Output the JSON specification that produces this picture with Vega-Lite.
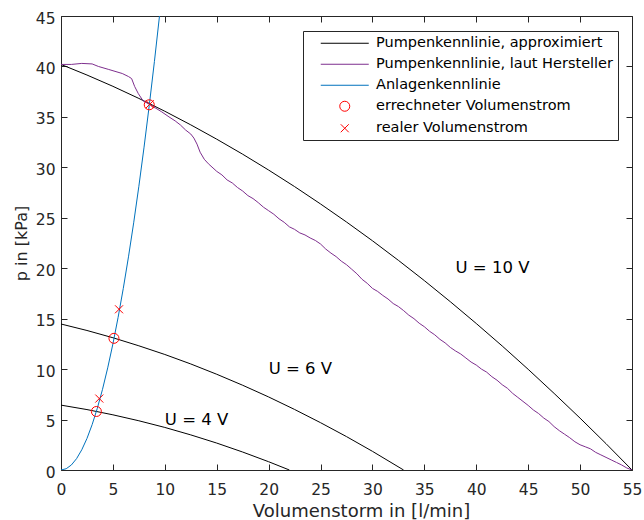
{
  "$schema": "https://vega.github.io/schema/vega-lite/v6.json",
  "width": 571,
  "height": 454,
  "autosize": {"type": "none"},
  "padding": {"left": 61, "top": 16, "right": 12, "bottom": 50},
  "background": "white",
  "config": {
    "view": {"stroke": "#262626", "strokeWidth": 1},
    "font": "DejaVu Sans",
    "axis": {
      "grid": false,
      "domain": false,
      "offset": -6,
      "tickSize": 6,
      "tickWidth": 1,
      "tickColor": "#262626",
      "labelColor": "#262626",
      "titleColor": "#262626",
      "labelFont": "DejaVu Sans",
      "titleFont": "DejaVu Sans",
      "labelFontSize": 15.5,
      "titleFontWeight": "normal",
      "labelFlush": false,
      "labelOverlap": false
    },
    "legend": {
      "orient": "none",
      "legendX": 242,
      "legendY": 15,
      "fillColor": "white",
      "strokeColor": "#262626",
      "padding": 5,
      "cornerRadius": 0,
      "labelFont": "DejaVu Sans",
      "labelFontSize": 14.5,
      "labelColor": "#000000",
      "labelLimit": 0,
      "symbolSize": 100,
      "symbolStrokeWidth": 1,
      "rowPadding": 6,
      "labelOffset": 24,
      "symbolOffset": 29.5
    }
  },
  "datasets": {
    "curves": [
      {"Q": 0, "p": 40.2, "series": "Pumpenkennlinie, approximiert", "curve": "U10"},
      {"Q": 2.5, "p": 39.15, "series": "Pumpenkennlinie, approximiert", "curve": "U10"},
      {"Q": 5, "p": 38.03, "series": "Pumpenkennlinie, approximiert", "curve": "U10"},
      {"Q": 7.5, "p": 36.83, "series": "Pumpenkennlinie, approximiert", "curve": "U10"},
      {"Q": 10, "p": 35.56, "series": "Pumpenkennlinie, approximiert", "curve": "U10"},
      {"Q": 12.5, "p": 34.21, "series": "Pumpenkennlinie, approximiert", "curve": "U10"},
      {"Q": 15, "p": 32.79, "series": "Pumpenkennlinie, approximiert", "curve": "U10"},
      {"Q": 17.5, "p": 31.3, "series": "Pumpenkennlinie, approximiert", "curve": "U10"},
      {"Q": 20, "p": 29.73, "series": "Pumpenkennlinie, approximiert", "curve": "U10"},
      {"Q": 22.5, "p": 28.09, "series": "Pumpenkennlinie, approximiert", "curve": "U10"},
      {"Q": 25, "p": 26.37, "series": "Pumpenkennlinie, approximiert", "curve": "U10"},
      {"Q": 27.5, "p": 24.58, "series": "Pumpenkennlinie, approximiert", "curve": "U10"},
      {"Q": 30, "p": 22.72, "series": "Pumpenkennlinie, approximiert", "curve": "U10"},
      {"Q": 32.5, "p": 20.78, "series": "Pumpenkennlinie, approximiert", "curve": "U10"},
      {"Q": 35, "p": 18.77, "series": "Pumpenkennlinie, approximiert", "curve": "U10"},
      {"Q": 37.5, "p": 16.68, "series": "Pumpenkennlinie, approximiert", "curve": "U10"},
      {"Q": 40, "p": 14.52, "series": "Pumpenkennlinie, approximiert", "curve": "U10"},
      {"Q": 42.5, "p": 12.29, "series": "Pumpenkennlinie, approximiert", "curve": "U10"},
      {"Q": 45, "p": 9.98, "series": "Pumpenkennlinie, approximiert", "curve": "U10"},
      {"Q": 47.5, "p": 7.59, "series": "Pumpenkennlinie, approximiert", "curve": "U10"},
      {"Q": 50, "p": 5.14, "series": "Pumpenkennlinie, approximiert", "curve": "U10"},
      {"Q": 52.5, "p": 2.61, "series": "Pumpenkennlinie, approximiert", "curve": "U10"},
      {"Q": 55, "p": 0, "series": "Pumpenkennlinie, approximiert", "curve": "U10"},
      {"Q": 0, "p": 14.47, "series": "Pumpenkennlinie, approximiert", "curve": "U6"},
      {"Q": 2.5, "p": 13.83, "series": "Pumpenkennlinie, approximiert", "curve": "U6"},
      {"Q": 5, "p": 13.11, "series": "Pumpenkennlinie, approximiert", "curve": "U6"},
      {"Q": 7.5, "p": 12.31, "series": "Pumpenkennlinie, approximiert", "curve": "U6"},
      {"Q": 10, "p": 11.45, "series": "Pumpenkennlinie, approximiert", "curve": "U6"},
      {"Q": 12.5, "p": 10.51, "series": "Pumpenkennlinie, approximiert", "curve": "U6"},
      {"Q": 15, "p": 9.49, "series": "Pumpenkennlinie, approximiert", "curve": "U6"},
      {"Q": 17.5, "p": 8.4, "series": "Pumpenkennlinie, approximiert", "curve": "U6"},
      {"Q": 20, "p": 7.24, "series": "Pumpenkennlinie, approximiert", "curve": "U6"},
      {"Q": 22.5, "p": 6.0, "series": "Pumpenkennlinie, approximiert", "curve": "U6"},
      {"Q": 25, "p": 4.69, "series": "Pumpenkennlinie, approximiert", "curve": "U6"},
      {"Q": 27.5, "p": 3.31, "series": "Pumpenkennlinie, approximiert", "curve": "U6"},
      {"Q": 30, "p": 1.85, "series": "Pumpenkennlinie, approximiert", "curve": "U6"},
      {"Q": 33, "p": 0, "series": "Pumpenkennlinie, approximiert", "curve": "U6"},
      {"Q": 0, "p": 6.43, "series": "Pumpenkennlinie, approximiert", "curve": "U4"},
      {"Q": 2.5, "p": 5.99, "series": "Pumpenkennlinie, approximiert", "curve": "U4"},
      {"Q": 5, "p": 5.47, "series": "Pumpenkennlinie, approximiert", "curve": "U4"},
      {"Q": 7.5, "p": 4.88, "series": "Pumpenkennlinie, approximiert", "curve": "U4"},
      {"Q": 10, "p": 4.22, "series": "Pumpenkennlinie, approximiert", "curve": "U4"},
      {"Q": 12.5, "p": 3.48, "series": "Pumpenkennlinie, approximiert", "curve": "U4"},
      {"Q": 15, "p": 2.67, "series": "Pumpenkennlinie, approximiert", "curve": "U4"},
      {"Q": 17.5, "p": 1.78, "series": "Pumpenkennlinie, approximiert", "curve": "U4"},
      {"Q": 20, "p": 0.82, "series": "Pumpenkennlinie, approximiert", "curve": "U4"},
      {"Q": 22, "p": 0, "series": "Pumpenkennlinie, approximiert", "curve": "U4"},
      {"Q": 0, "p": 40.2, "series": "Pumpenkennlinie, laut Hersteller", "curve": "H"},
      {"Q": 1, "p": 40.2, "series": "Pumpenkennlinie, laut Hersteller", "curve": "H"},
      {"Q": 2, "p": 40.3, "series": "Pumpenkennlinie, laut Hersteller", "curve": "H"},
      {"Q": 3, "p": 40.25, "series": "Pumpenkennlinie, laut Hersteller", "curve": "H"},
      {"Q": 3.6, "p": 40.0, "series": "Pumpenkennlinie, laut Hersteller", "curve": "H"},
      {"Q": 4.6, "p": 39.7, "series": "Pumpenkennlinie, laut Hersteller", "curve": "H"},
      {"Q": 5.9, "p": 39.3, "series": "Pumpenkennlinie, laut Hersteller", "curve": "H"},
      {"Q": 6.5, "p": 39.0, "series": "Pumpenkennlinie, laut Hersteller", "curve": "H"},
      {"Q": 6.8, "p": 38.8, "series": "Pumpenkennlinie, laut Hersteller", "curve": "H"},
      {"Q": 7.1, "p": 38.0, "series": "Pumpenkennlinie, laut Hersteller", "curve": "H"},
      {"Q": 7.45, "p": 37.3, "series": "Pumpenkennlinie, laut Hersteller", "curve": "H"},
      {"Q": 7.9, "p": 36.6, "series": "Pumpenkennlinie, laut Hersteller", "curve": "H"},
      {"Q": 8.6, "p": 36.2, "series": "Pumpenkennlinie, laut Hersteller", "curve": "H"},
      {"Q": 9.7, "p": 35.5, "series": "Pumpenkennlinie, laut Hersteller", "curve": "H"},
      {"Q": 10.4, "p": 35.0, "series": "Pumpenkennlinie, laut Hersteller", "curve": "H"},
      {"Q": 11.0, "p": 34.6, "series": "Pumpenkennlinie, laut Hersteller", "curve": "H"},
      {"Q": 11.5, "p": 34.2, "series": "Pumpenkennlinie, laut Hersteller", "curve": "H"},
      {"Q": 12.0, "p": 33.7, "series": "Pumpenkennlinie, laut Hersteller", "curve": "H"},
      {"Q": 12.5, "p": 33.3, "series": "Pumpenkennlinie, laut Hersteller", "curve": "H"},
      {"Q": 12.8, "p": 32.9, "series": "Pumpenkennlinie, laut Hersteller", "curve": "H"},
      {"Q": 13.1, "p": 32.3, "series": "Pumpenkennlinie, laut Hersteller", "curve": "H"},
      {"Q": 13.4, "p": 31.5, "series": "Pumpenkennlinie, laut Hersteller", "curve": "H"},
      {"Q": 13.8, "p": 30.8, "series": "Pumpenkennlinie, laut Hersteller", "curve": "H"},
      {"Q": 14.2, "p": 30.35, "series": "Pumpenkennlinie, laut Hersteller", "curve": "H"},
      {"Q": 15.0, "p": 29.6, "series": "Pumpenkennlinie, laut Hersteller", "curve": "H"},
      {"Q": 15.5, "p": 29.25, "series": "Pumpenkennlinie, laut Hersteller", "curve": "H"},
      {"Q": 16.0, "p": 28.75, "series": "Pumpenkennlinie, laut Hersteller", "curve": "H"},
      {"Q": 16.5, "p": 28.45, "series": "Pumpenkennlinie, laut Hersteller", "curve": "H"},
      {"Q": 17.0, "p": 28.0, "series": "Pumpenkennlinie, laut Hersteller", "curve": "H"},
      {"Q": 17.5, "p": 27.65, "series": "Pumpenkennlinie, laut Hersteller", "curve": "H"},
      {"Q": 18.0, "p": 27.2, "series": "Pumpenkennlinie, laut Hersteller", "curve": "H"},
      {"Q": 18.5, "p": 26.9, "series": "Pumpenkennlinie, laut Hersteller", "curve": "H"},
      {"Q": 19.0, "p": 26.5, "series": "Pumpenkennlinie, laut Hersteller", "curve": "H"},
      {"Q": 19.5, "p": 26.05, "series": "Pumpenkennlinie, laut Hersteller", "curve": "H"},
      {"Q": 20.0, "p": 25.7, "series": "Pumpenkennlinie, laut Hersteller", "curve": "H"},
      {"Q": 20.5, "p": 25.35, "series": "Pumpenkennlinie, laut Hersteller", "curve": "H"},
      {"Q": 21.0, "p": 24.9, "series": "Pumpenkennlinie, laut Hersteller", "curve": "H"},
      {"Q": 21.5, "p": 24.55, "series": "Pumpenkennlinie, laut Hersteller", "curve": "H"},
      {"Q": 22.0, "p": 24.1, "series": "Pumpenkennlinie, laut Hersteller", "curve": "H"},
      {"Q": 22.5, "p": 23.85, "series": "Pumpenkennlinie, laut Hersteller", "curve": "H"},
      {"Q": 23.0, "p": 23.5, "series": "Pumpenkennlinie, laut Hersteller", "curve": "H"},
      {"Q": 23.5, "p": 23.3, "series": "Pumpenkennlinie, laut Hersteller", "curve": "H"},
      {"Q": 24.0, "p": 23.0, "series": "Pumpenkennlinie, laut Hersteller", "curve": "H"},
      {"Q": 24.5, "p": 22.75, "series": "Pumpenkennlinie, laut Hersteller", "curve": "H"},
      {"Q": 25.0, "p": 22.4, "series": "Pumpenkennlinie, laut Hersteller", "curve": "H"},
      {"Q": 25.5, "p": 21.9, "series": "Pumpenkennlinie, laut Hersteller", "curve": "H"},
      {"Q": 26.0, "p": 21.5, "series": "Pumpenkennlinie, laut Hersteller", "curve": "H"},
      {"Q": 26.5, "p": 21.15, "series": "Pumpenkennlinie, laut Hersteller", "curve": "H"},
      {"Q": 27.0, "p": 20.7, "series": "Pumpenkennlinie, laut Hersteller", "curve": "H"},
      {"Q": 27.5, "p": 20.35, "series": "Pumpenkennlinie, laut Hersteller", "curve": "H"},
      {"Q": 28.0, "p": 19.9, "series": "Pumpenkennlinie, laut Hersteller", "curve": "H"},
      {"Q": 28.5, "p": 19.45, "series": "Pumpenkennlinie, laut Hersteller", "curve": "H"},
      {"Q": 29.0, "p": 18.9, "series": "Pumpenkennlinie, laut Hersteller", "curve": "H"},
      {"Q": 29.5, "p": 18.5, "series": "Pumpenkennlinie, laut Hersteller", "curve": "H"},
      {"Q": 30.0, "p": 18.0, "series": "Pumpenkennlinie, laut Hersteller", "curve": "H"},
      {"Q": 30.5, "p": 17.7, "series": "Pumpenkennlinie, laut Hersteller", "curve": "H"},
      {"Q": 31.0, "p": 17.3, "series": "Pumpenkennlinie, laut Hersteller", "curve": "H"},
      {"Q": 31.5, "p": 16.95, "series": "Pumpenkennlinie, laut Hersteller", "curve": "H"},
      {"Q": 32.0, "p": 16.5, "series": "Pumpenkennlinie, laut Hersteller", "curve": "H"},
      {"Q": 32.5, "p": 16.2, "series": "Pumpenkennlinie, laut Hersteller", "curve": "H"},
      {"Q": 33.0, "p": 15.8, "series": "Pumpenkennlinie, laut Hersteller", "curve": "H"},
      {"Q": 33.5, "p": 15.35, "series": "Pumpenkennlinie, laut Hersteller", "curve": "H"},
      {"Q": 34.0, "p": 15.0, "series": "Pumpenkennlinie, laut Hersteller", "curve": "H"},
      {"Q": 34.5, "p": 14.55, "series": "Pumpenkennlinie, laut Hersteller", "curve": "H"},
      {"Q": 35.0, "p": 14.2, "series": "Pumpenkennlinie, laut Hersteller", "curve": "H"},
      {"Q": 35.5, "p": 13.75, "series": "Pumpenkennlinie, laut Hersteller", "curve": "H"},
      {"Q": 36.0, "p": 13.4, "series": "Pumpenkennlinie, laut Hersteller", "curve": "H"},
      {"Q": 36.5, "p": 12.95, "series": "Pumpenkennlinie, laut Hersteller", "curve": "H"},
      {"Q": 37.0, "p": 12.6, "series": "Pumpenkennlinie, laut Hersteller", "curve": "H"},
      {"Q": 37.5, "p": 12.15, "series": "Pumpenkennlinie, laut Hersteller", "curve": "H"},
      {"Q": 38.0, "p": 11.8, "series": "Pumpenkennlinie, laut Hersteller", "curve": "H"},
      {"Q": 38.5, "p": 11.5, "series": "Pumpenkennlinie, laut Hersteller", "curve": "H"},
      {"Q": 39.0, "p": 11.1, "series": "Pumpenkennlinie, laut Hersteller", "curve": "H"},
      {"Q": 39.5, "p": 10.7, "series": "Pumpenkennlinie, laut Hersteller", "curve": "H"},
      {"Q": 40.0, "p": 10.4, "series": "Pumpenkennlinie, laut Hersteller", "curve": "H"},
      {"Q": 40.5, "p": 10.0, "series": "Pumpenkennlinie, laut Hersteller", "curve": "H"},
      {"Q": 41.0, "p": 9.7, "series": "Pumpenkennlinie, laut Hersteller", "curve": "H"},
      {"Q": 41.5, "p": 9.25, "series": "Pumpenkennlinie, laut Hersteller", "curve": "H"},
      {"Q": 42.0, "p": 8.9, "series": "Pumpenkennlinie, laut Hersteller", "curve": "H"},
      {"Q": 42.5, "p": 8.45, "series": "Pumpenkennlinie, laut Hersteller", "curve": "H"},
      {"Q": 43.0, "p": 8.1, "series": "Pumpenkennlinie, laut Hersteller", "curve": "H"},
      {"Q": 43.5, "p": 7.6, "series": "Pumpenkennlinie, laut Hersteller", "curve": "H"},
      {"Q": 44.0, "p": 7.2, "series": "Pumpenkennlinie, laut Hersteller", "curve": "H"},
      {"Q": 44.5, "p": 6.8, "series": "Pumpenkennlinie, laut Hersteller", "curve": "H"},
      {"Q": 45.0, "p": 6.4, "series": "Pumpenkennlinie, laut Hersteller", "curve": "H"},
      {"Q": 45.5, "p": 5.95, "series": "Pumpenkennlinie, laut Hersteller", "curve": "H"},
      {"Q": 46.0, "p": 5.6, "series": "Pumpenkennlinie, laut Hersteller", "curve": "H"},
      {"Q": 46.5, "p": 5.15, "series": "Pumpenkennlinie, laut Hersteller", "curve": "H"},
      {"Q": 47.0, "p": 4.8, "series": "Pumpenkennlinie, laut Hersteller", "curve": "H"},
      {"Q": 47.5, "p": 4.3, "series": "Pumpenkennlinie, laut Hersteller", "curve": "H"},
      {"Q": 48.0, "p": 3.9, "series": "Pumpenkennlinie, laut Hersteller", "curve": "H"},
      {"Q": 48.5, "p": 3.55, "series": "Pumpenkennlinie, laut Hersteller", "curve": "H"},
      {"Q": 49.0, "p": 3.2, "series": "Pumpenkennlinie, laut Hersteller", "curve": "H"},
      {"Q": 49.5, "p": 2.8, "series": "Pumpenkennlinie, laut Hersteller", "curve": "H"},
      {"Q": 50.0, "p": 2.5, "series": "Pumpenkennlinie, laut Hersteller", "curve": "H"},
      {"Q": 50.5, "p": 2.3, "series": "Pumpenkennlinie, laut Hersteller", "curve": "H"},
      {"Q": 51.0, "p": 2.1, "series": "Pumpenkennlinie, laut Hersteller", "curve": "H"},
      {"Q": 51.5, "p": 1.75, "series": "Pumpenkennlinie, laut Hersteller", "curve": "H"},
      {"Q": 52.0, "p": 1.5, "series": "Pumpenkennlinie, laut Hersteller", "curve": "H"},
      {"Q": 52.5, "p": 1.25, "series": "Pumpenkennlinie, laut Hersteller", "curve": "H"},
      {"Q": 53.0, "p": 1.0, "series": "Pumpenkennlinie, laut Hersteller", "curve": "H"},
      {"Q": 53.5, "p": 0.75, "series": "Pumpenkennlinie, laut Hersteller", "curve": "H"},
      {"Q": 54.0, "p": 0.5, "series": "Pumpenkennlinie, laut Hersteller", "curve": "H"},
      {"Q": 54.5, "p": 0.2, "series": "Pumpenkennlinie, laut Hersteller", "curve": "H"},
      {"Q": 55.0, "p": 0.0, "series": "Pumpenkennlinie, laut Hersteller", "curve": "H"},
      {"Q": 0, "p": 0, "series": "Anlagenkennlinie", "curve": "A"},
      {"Q": 0.5, "p": 0.125, "series": "Anlagenkennlinie", "curve": "A"},
      {"Q": 1, "p": 0.5, "series": "Anlagenkennlinie", "curve": "A"},
      {"Q": 1.5, "p": 1.125, "series": "Anlagenkennlinie", "curve": "A"},
      {"Q": 2, "p": 2, "series": "Anlagenkennlinie", "curve": "A"},
      {"Q": 2.5, "p": 3.125, "series": "Anlagenkennlinie", "curve": "A"},
      {"Q": 3, "p": 4.5, "series": "Anlagenkennlinie", "curve": "A"},
      {"Q": 3.5, "p": 6.125, "series": "Anlagenkennlinie", "curve": "A"},
      {"Q": 4, "p": 8, "series": "Anlagenkennlinie", "curve": "A"},
      {"Q": 4.5, "p": 10.125, "series": "Anlagenkennlinie", "curve": "A"},
      {"Q": 5, "p": 12.5, "series": "Anlagenkennlinie", "curve": "A"},
      {"Q": 5.5, "p": 15.125, "series": "Anlagenkennlinie", "curve": "A"},
      {"Q": 6, "p": 18, "series": "Anlagenkennlinie", "curve": "A"},
      {"Q": 6.5, "p": 21.125, "series": "Anlagenkennlinie", "curve": "A"},
      {"Q": 7, "p": 24.5, "series": "Anlagenkennlinie", "curve": "A"},
      {"Q": 7.5, "p": 28.125, "series": "Anlagenkennlinie", "curve": "A"},
      {"Q": 8, "p": 32, "series": "Anlagenkennlinie", "curve": "A"},
      {"Q": 8.5, "p": 36.125, "series": "Anlagenkennlinie", "curve": "A"},
      {"Q": 9, "p": 40.5, "series": "Anlagenkennlinie", "curve": "A"},
      {"Q": 9.5, "p": 45.125, "series": "Anlagenkennlinie", "curve": "A"}
    ],
    "points": [
      {"Q": 8.5, "p": 36.2, "series": "errechneter Volumenstrom"},
      {"Q": 5.1, "p": 13.05, "series": "errechneter Volumenstrom"},
      {"Q": 3.41, "p": 5.8, "series": "errechneter Volumenstrom"},
      {"Q": 8.55, "p": 36.25, "series": "realer Volumenstrom"},
      {"Q": 5.59, "p": 15.93, "series": "realer Volumenstrom"},
      {"Q": 3.69, "p": 7.08, "series": "realer Volumenstrom"}
    ],
    "labels": [
      {"Q": 38, "p": 20, "label": "U = 10 V"},
      {"Q": 20, "p": 10, "label": "U = 6 V"},
      {"Q": 10, "p": 5, "label": "U = 4 V"}
    ]
  },
  "resolve": {"axis": {"x": "independent", "y": "independent"}},
  "layer": [
    {
      "data": {"name": "curves"},
      "mark": {"type": "line", "strokeWidth": 1, "clip": true},
      "encoding": {
        "x": {"field": "Q", "type": "quantitative", "scale": {"domain": [0, 55], "nice": false, "zero": false},
              "axis": {"orient": "bottom", "title": "Volumenstorm in [l/min]", "values": [0, 5, 10, 15, 20, 25, 30, 35, 40, 45, 50, 55],
                       "labelPadding": 12, "titleFontSize": 18, "titleX": 300, "titleY": 52.5, "titleBaseline": "alphabetic", "titleAnchor": "middle", "titleAlign": "center"}},
        "y": {"field": "p", "type": "quantitative", "scale": {"domain": [0, 45], "nice": false, "zero": false},
              "axis": {"orient": "left", "title": "p in [kPa]", "values": [0, 5, 10, 15, 20, 25, 30, 35, 40, 45],
                       "labelPadding": 6, "labelOffset": 2, "titleFontSize": 16, "titleX": -45.5, "titleY": 227, "titleBaseline": "middle", "titleAlign": "center", "titleAngle": -90}},
        "color": {"field": "series", "type": "nominal", "title": null,
                  "scale": {"domain": ["Pumpenkennlinie, approximiert", "Pumpenkennlinie, laut Hersteller", "Anlagenkennlinie", "errechneter Volumenstrom", "realer Volumenstrom"],
                            "range": ["#000000", "#7E2F8E", "#0072BD", "#FF0000", "#FF0000"]}},
        "detail": {"field": "curve", "type": "nominal"}
      }
    },
    {
      "data": {"name": "points"},
      "mark": {"type": "point", "filled": false, "size": 100, "strokeWidth": 1, "opacity": 1},
      "encoding": {
        "x": {"field": "Q", "type": "quantitative", "axis": null},
        "y": {"field": "p", "type": "quantitative", "axis": null},
        "color": {"field": "series", "type": "nominal", "title": null},
        "shape": {"field": "series", "type": "nominal", "title": null,
                  "scale": {"domain": ["Pumpenkennlinie, approximiert", "Pumpenkennlinie, laut Hersteller", "Anlagenkennlinie", "errechneter Volumenstrom", "realer Volumenstrom"],
                            "range": ["M-4.8,0L4.8,0", "M-4.8,0L4.8,0", "M-4.8,0L4.8,0", "circle", "M-0.8,-0.8L0.8,0.8M-0.8,0.8L0.8,-0.8"]}}
      }
    },
    {
      "data": {"name": "labels"},
      "mark": {"type": "text", "align": "left", "baseline": "middle", "font": "DejaVu Sans", "fontSize": 16.5, "color": "#000000"},
      "encoding": {
        "x": {"field": "Q", "type": "quantitative", "axis": {"orient": "top", "title": null, "labels": false, "values": [0, 5, 10, 15, 20, 25, 30, 35, 40, 45, 50, 55]}},
        "y": {"field": "p", "type": "quantitative", "axis": {"orient": "right", "title": null, "labels": false, "values": [0, 5, 10, 15, 20, 25, 30, 35, 40, 45]}},
        "text": {"field": "label", "type": "nominal"}
      }
    }
  ]
}
